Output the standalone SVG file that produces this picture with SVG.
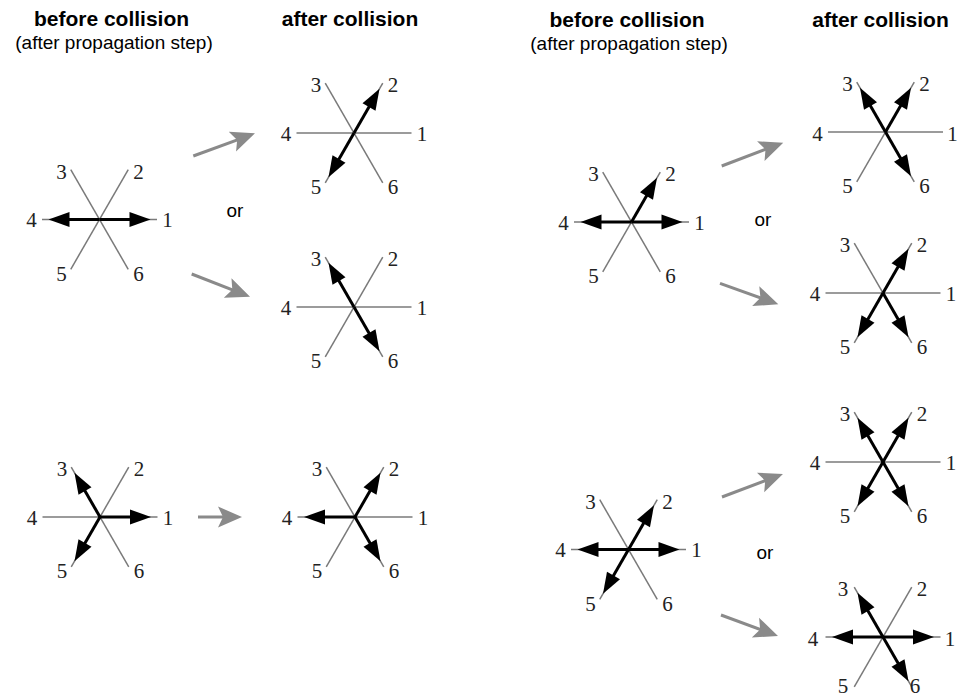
<svg xmlns="http://www.w3.org/2000/svg" xmlns:xlink="http://www.w3.org/1999/xlink" width="960" height="699" viewBox="0 0 960 699">
<style>
.hdr{font-family:"Liberation Sans",Arial,sans-serif;font-weight:bold;font-size:21px;fill:#000;text-anchor:middle}
.sub{font-family:"Liberation Sans",Arial,sans-serif;font-size:19px;fill:#000;text-anchor:middle}
.or{font-family:"Liberation Sans",Arial,sans-serif;font-size:19px;fill:#000;text-anchor:middle}
.lab{font-family:"Liberation Serif","Times New Roman",serif;font-size:21px;fill:#222;text-anchor:middle}
.lat{stroke:#7a7a7a;stroke-width:1.5;fill:none}
.conn{stroke:#8a8a8a;stroke-width:3;fill:none;marker-end:url(#garr)}
</style>
<defs>
<g id="lattice" class="lat">
<line x1="-57.5" y1="0" x2="57.5" y2="0"/>
<line x1="-28.75" y1="49.8" x2="28.75" y2="-49.8"/>
<line x1="-28.75" y1="-49.8" x2="28.75" y2="49.8"/>
</g>
<g id="arr">
<line x1="0" y1="0" x2="40" y2="0" stroke="#000" stroke-width="3"/>
<path d="M51,0 L30,-7.5 L30,7.5 Z" fill="#000"/>
</g>
<marker id="garr" markerUnits="userSpaceOnUse" markerWidth="26" markerHeight="24" refX="14" refY="11" orient="auto">
<path d="M0,0.5 L24,11 L0,21.5 L5,11 Z" fill="#8a8a8a"/>
</marker>
</defs>
<rect width="960" height="699" fill="#fff"/>

<g id="headers">
<text class="hdr" x="111.5" y="26">before collision</text>
<text class="sub" x="114" y="49">(after propagation step)</text>
<text class="hdr" x="350" y="26">after collision</text>
<text class="hdr" x="627" y="27">before collision</text>
<text class="sub" x="629" y="50">(after propagation step)</text>
<text class="hdr" x="880.5" y="27">after collision</text>
</g>

<g id="nodeA" transform="translate(99.5,219.5)">
<use xlink:href="#lattice"/>
<use xlink:href="#arr"/>
<use xlink:href="#arr" transform="rotate(180)"/>
<text class="lab" x="68" y="7.5">1</text><text class="lab" x="39" y="-41">2</text><text class="lab" x="-38" y="-41">3</text>
<text class="lab" x="-68" y="7.5">4</text><text class="lab" x="-38" y="61">5</text><text class="lab" x="39" y="61">6</text>
</g>

<g id="nodeB" transform="translate(354,133)">
<use xlink:href="#lattice"/>
<use xlink:href="#arr" transform="rotate(-60)"/>
<use xlink:href="#arr" transform="rotate(120)"/>
<text class="lab" x="68" y="7.5">1</text><text class="lab" x="39" y="-41">2</text><text class="lab" x="-38" y="-41">3</text>
<text class="lab" x="-68" y="7.5">4</text><text class="lab" x="-38" y="61">5</text><text class="lab" x="39" y="61">6</text>
</g>

<g id="nodeC" transform="translate(354,307)">
<use xlink:href="#lattice"/>
<use xlink:href="#arr" transform="rotate(-120)"/>
<use xlink:href="#arr" transform="rotate(60)"/>
<text class="lab" x="68" y="7.5">1</text><text class="lab" x="39" y="-41">2</text><text class="lab" x="-38" y="-41">3</text>
<text class="lab" x="-68" y="7.5">4</text><text class="lab" x="-38" y="61">5</text><text class="lab" x="39" y="61">6</text>
</g>

<g id="nodeD" transform="translate(100,517)">
<use xlink:href="#lattice"/>
<use xlink:href="#arr"/>
<use xlink:href="#arr" transform="rotate(-120)"/>
<use xlink:href="#arr" transform="rotate(120)"/>
<text class="lab" x="68" y="7.5">1</text><text class="lab" x="39" y="-41">2</text><text class="lab" x="-38" y="-41">3</text>
<text class="lab" x="-68" y="7.5">4</text><text class="lab" x="-38" y="61">5</text><text class="lab" x="39" y="61">6</text>
</g>

<g id="nodeE" transform="translate(355,517)">
<use xlink:href="#lattice"/>
<use xlink:href="#arr" transform="rotate(180)"/>
<use xlink:href="#arr" transform="rotate(-60)"/>
<use xlink:href="#arr" transform="rotate(60)"/>
<text class="lab" x="68" y="7.5">1</text><text class="lab" x="39" y="-41">2</text><text class="lab" x="-38" y="-41">3</text>
<text class="lab" x="-68" y="7.5">4</text><text class="lab" x="-38" y="61">5</text><text class="lab" x="39" y="61">6</text>
</g>

<g id="nodeF" transform="translate(631.5,222)">
<use xlink:href="#lattice"/>
<use xlink:href="#arr"/>
<use xlink:href="#arr" transform="rotate(180)"/>
<use xlink:href="#arr" transform="rotate(-60)"/>
<text class="lab" x="68" y="7.5">1</text><text class="lab" x="39" y="-41">2</text><text class="lab" x="-38" y="-41">3</text>
<text class="lab" x="-68" y="7.5">4</text><text class="lab" x="-38" y="61">5</text><text class="lab" x="39" y="61">6</text>
</g>

<g id="nodeG" transform="translate(885.5,132)">
<use xlink:href="#lattice"/>
<use xlink:href="#arr" transform="rotate(-120)"/>
<use xlink:href="#arr" transform="rotate(-60)"/>
<use xlink:href="#arr" transform="rotate(60)"/>
<text class="lab" x="67" y="9">1</text><text class="lab" x="39" y="-41">2</text><text class="lab" x="-38" y="-41">3</text>
<text class="lab" x="-68" y="9">4</text><text class="lab" x="-38" y="61">5</text><text class="lab" x="39" y="61">6</text>
</g>

<g id="nodeH" transform="translate(883,293)">
<use xlink:href="#lattice"/>
<use xlink:href="#arr" transform="rotate(-60)"/>
<use xlink:href="#arr" transform="rotate(120)"/>
<use xlink:href="#arr" transform="rotate(60)"/>
<text class="lab" x="68" y="7.5">1</text><text class="lab" x="39" y="-41">2</text><text class="lab" x="-38" y="-41">3</text>
<text class="lab" x="-68" y="7.5">4</text><text class="lab" x="-38" y="61">5</text><text class="lab" x="39" y="61">6</text>
</g>

<g id="nodeI" transform="translate(883,462)">
<use xlink:href="#lattice"/>
<use xlink:href="#arr" transform="rotate(-120)"/>
<use xlink:href="#arr" transform="rotate(-60)"/>
<use xlink:href="#arr" transform="rotate(120)"/>
<use xlink:href="#arr" transform="rotate(60)"/>
<text class="lab" x="68" y="7.5">1</text><text class="lab" x="39" y="-41">2</text><text class="lab" x="-38" y="-41">3</text>
<text class="lab" x="-68" y="7.5">4</text><text class="lab" x="-38" y="61">5</text><text class="lab" x="39" y="61">6</text>
</g>

<g id="nodeJ" transform="translate(628.5,549.5)">
<use xlink:href="#lattice"/>
<use xlink:href="#arr"/>
<use xlink:href="#arr" transform="rotate(180)"/>
<use xlink:href="#arr" transform="rotate(-60)"/>
<use xlink:href="#arr" transform="rotate(120)"/>
<text class="lab" x="68" y="7.5">1</text><text class="lab" x="39" y="-41">2</text><text class="lab" x="-38" y="-41">3</text>
<text class="lab" x="-68" y="7.5">4</text><text class="lab" x="-38" y="61">5</text><text class="lab" x="39" y="61">6</text>
</g>

<g id="nodeK" transform="translate(883,637)">
<use xlink:href="#lattice"/>
<use xlink:href="#arr"/>
<use xlink:href="#arr" transform="rotate(180)"/>
<use xlink:href="#arr" transform="rotate(-120)"/>
<use xlink:href="#arr" transform="rotate(60)"/>
<text class="lab" x="67" y="9">1</text><text class="lab" x="39" y="-41">2</text><text class="lab" x="-40" y="-41">3</text>
<text class="lab" x="-70" y="9">4</text><text class="lab" x="-40" y="56">5</text><text class="lab" x="32" y="56">6</text>
</g>

<g id="connectors">
<line class="conn" x1="193.3" y1="156" x2="245.6" y2="136.8"/>
<line class="conn" x1="191.7" y1="274" x2="240.7" y2="293.1"/>
<line class="conn" x1="198" y1="517" x2="232" y2="517"/>
<line class="conn" x1="721.7" y1="166" x2="773.9" y2="146.2"/>
<line class="conn" x1="720" y1="283.3" x2="768.9" y2="300.9"/>
<line class="conn" x1="722" y1="497" x2="773.6" y2="477.5"/>
<line class="conn" x1="721" y1="615" x2="768.6" y2="632.5"/>
</g>

<g id="or-labels">
<text class="or" x="235" y="217">or</text>
<text class="or" x="763" y="226">or</text>
<text class="or" x="765" y="559">or</text>
</g>
</svg>
